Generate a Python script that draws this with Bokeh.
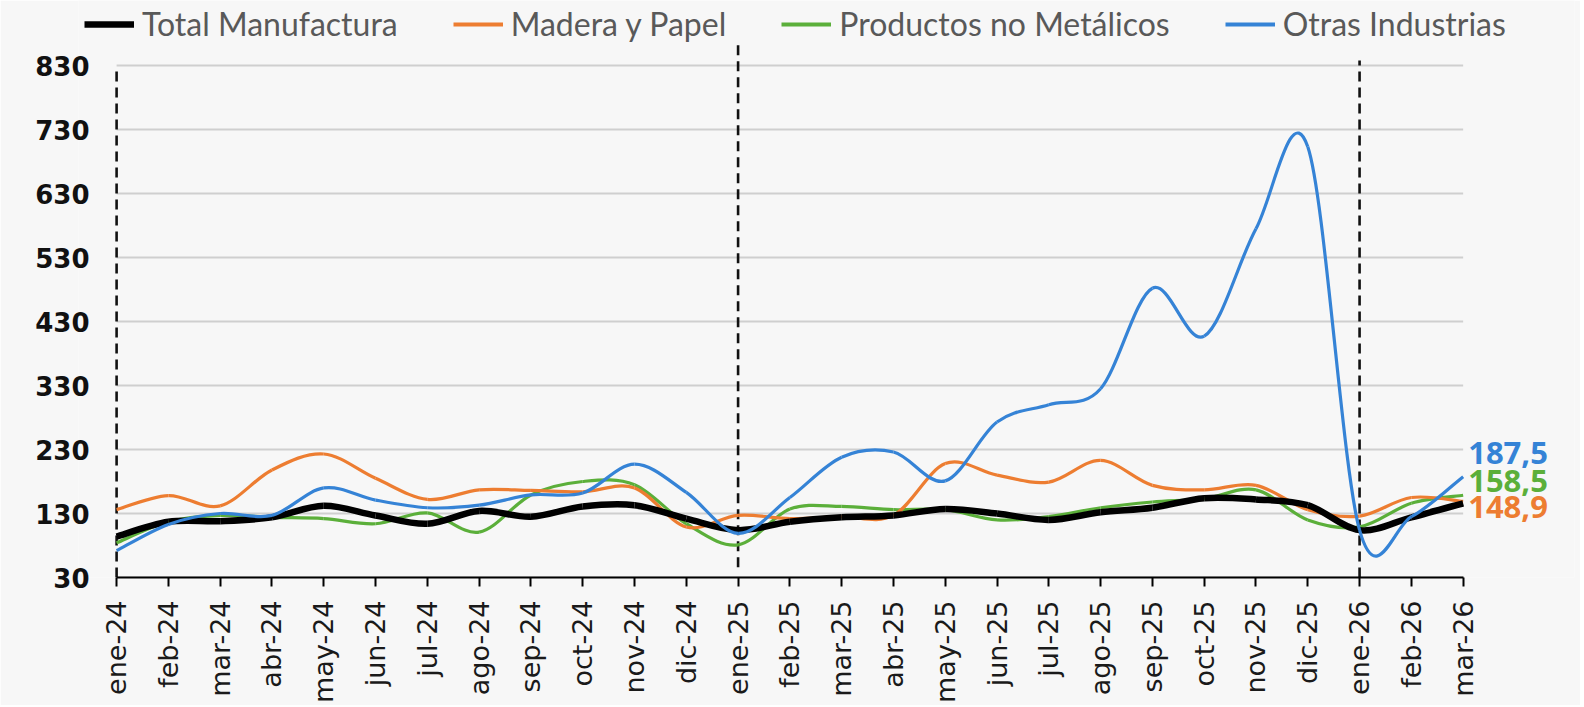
import math
from bokeh.plotting import figure
from bokeh.models import (Range1d, FixedTicker, Legend, LegendItem, Label,
                          ColumnDataSource)
from bokeh.embed import file_html
from bokeh.resources import INLINE

months = ["ene-24", "feb-24", "mar-24", "abr-24", "may-24", "jun-24", "jul-24",
          "ago-24", "sep-24", "oct-24", "nov-24", "dic-24",
          "ene-25", "feb-25", "mar-25", "abr-25", "may-25", "jun-25", "jul-25",
          "ago-25", "sep-25", "oct-25", "nov-25", "dic-25",
          "ene-26", "feb-26", "mar-26"]

total_manufactura = [94, 117, 118, 124, 142, 127, 114, 134, 125, 141, 143, 122,
                     104, 117, 124, 127, 137, 130, 120, 132, 139, 154, 152, 143,
                     104, 124, 146]
madera_papel = [136, 158, 142, 198, 223, 185, 152, 167, 166, 164, 170, 109,
                127, 122, 125, 127, 208, 190, 179, 213, 174, 167, 174, 136,
                126, 155, 148.9]
productos_no_metalicos = [84, 117, 127, 124, 122, 114, 131, 101, 159, 180, 175, 114,
                          81, 137, 141, 136, 136, 120, 125, 139, 148, 153, 167, 120,
                          109, 146, 158.5]
otras_industrias = [72, 113, 130, 127, 170, 151, 139, 143, 159, 162, 207, 163,
                    99, 155, 218, 226, 181, 273, 300, 325, 482, 407, 575, 703,
                    104, 125, 187.5]

series_names = ["Total Manufactura", "Madera y Papel", "Productos no Metálicos",
                "Otras Industrias"]
series_values = [total_manufactura, madera_papel, productos_no_metalicos,
                 otras_industrias]
series_colors = ["#000000", "#ED7D31", "#5BAF3A", "#3583D6"]
series_widths = [6.5, 3.2, 3.2, 3.2]

y_ticks = [30, 130, 230, 330, 430, 530, 630, 730, 830]
divider_months = ["ene-24", "ene-25", "ene-26"]
end_labels = ["187,5", "158,5", "148,9"]

BG = "#f7f7f7"
last = len(months) - 1

p = figure(width=1580, height=705, output_backend="svg", toolbar_location=None,
           x_range=Range1d(-0.7357, 28.15), y_range=Range1d(30, 931.6),
           min_border_left=78, min_border_right=6, min_border_top=0,
           min_border_bottom=128)
p.background_fill_color = BG
p.border_fill_color = BG
p.outline_line_color = None

# grid (drawn as segments limited to the data span)
p.xgrid.grid_line_color = None
p.ygrid.grid_line_color = None
p.segment(x0=[0] * len(y_ticks), y0=y_ticks, x1=[last] * len(y_ticks), y1=y_ticks,
          line_color="#cfcfcf", line_width=1.8)

# y axis
p.yaxis.ticker = FixedTicker(ticks=y_ticks)
p.yaxis.axis_line_color = None
p.yaxis.major_tick_line_color = None
p.yaxis.minor_tick_line_color = None
p.yaxis.major_tick_out = 0
p.yaxis.major_tick_in = 0
p.yaxis.major_label_text_font = "DejaVu Sans"
p.yaxis.major_label_text_font_style = "bold"
p.yaxis.major_label_text_font_size = "26px"
p.yaxis.major_label_text_color = "#111111"
p.yaxis.major_label_standoff = -11

# x axis
p.xaxis.ticker = FixedTicker(ticks=list(range(len(months))))
p.xaxis.bounds = (0, last)
p.xaxis.major_label_overrides = {i: m for i, m in enumerate(months)}
p.xaxis.major_label_orientation = math.pi / 2
p.xaxis.major_label_text_font = "DejaVu Sans"
p.xaxis.major_label_text_font_size = "27px"
p.xaxis.major_label_text_color = "#1a1a1a"
p.xaxis.axis_line_color = "#000000"
p.xaxis.axis_line_width = 2
p.xaxis.major_tick_line_color = "#000000"
p.xaxis.major_tick_line_width = 2
p.xaxis.major_tick_out = 9
p.xaxis.major_tick_in = 0
p.xaxis.minor_tick_line_color = None
p.xaxis.major_label_standoff = 14

# dashed dividers
div_x = [months.index(m) for m in divider_months]
p.segment(x0=div_x, y0=[30, 46, 30], x1=div_x, y1=[830, 862, 838],
          line_color="#111111", line_width=2.6, line_dash="10 6")

# smoothed lines via bezier segments
def bez_source(vals):
    n = len(vals)
    xs = list(range(n))
    x0, y0, x1, y1, cx0, cy0, cx1, cy1 = [], [], [], [], [], [], [], []
    for i in range(n - 1):
        im1 = max(i - 1, 0)
        ip2 = min(i + 2, n - 1)
        x0.append(xs[i]); y0.append(vals[i])
        x1.append(xs[i + 1]); y1.append(vals[i + 1])
        cx0.append(xs[i] + (xs[i + 1] - xs[im1]) / 6)
        cy0.append(vals[i] + (vals[i + 1] - vals[im1]) / 6)
        cx1.append(xs[i + 1] - (xs[ip2] - xs[i]) / 6)
        cy1.append(vals[i + 1] - (vals[ip2] - vals[i]) / 6)
    return ColumnDataSource(dict(x0=x0, y0=y0, x1=x1, y1=y1,
                                 cx0=cx0, cy0=cy0, cx1=cx1, cy1=cy1))

for k in [2, 1, 0, 3]:
    src = bez_source(series_values[k])
    p.bezier(x0="x0", y0="y0", x1="x1", y1="y1", cx0="cx0", cy0="cy0",
             cx1="cx1", cy1="cy1", source=src, line_color=series_colors[k],
             line_width=series_widths[k])

legend_items = []
for k in range(4):
    r = p.line(x=[float("nan")], y=[float("nan")], line_color=series_colors[k],
               line_width=series_widths[k] + 0.8 if k else 6.5)
    legend_items.append(LegendItem(label=series_names[k], renderers=[r]))

legend = Legend(items=legend_items, orientation="horizontal", location=(6, 534),
                label_text_font="Lato", label_text_font_size="32px",
                label_text_color="#595959", glyph_width=50, glyph_height=28,
                label_height=28, label_standoff=8, spacing=55, padding=0,
                margin=0, background_fill_alpha=0, border_line_color=None)
p.add_layout(legend, "center")

# end labels
end_y = [225, 181.5, 139.5]
end_colors = [series_colors[3], series_colors[2], series_colors[1]]
for txt, yv, col in zip(end_labels, end_y, end_colors):
    p.add_layout(Label(x=last, y=yv, x_offset=5, text=txt, text_color=col,
                       text_font="Open Sans", text_font_style="bold",
                       text_font_size="31px", text_baseline="middle"))

open("out.html", "w").write(file_html(p, INLINE))
